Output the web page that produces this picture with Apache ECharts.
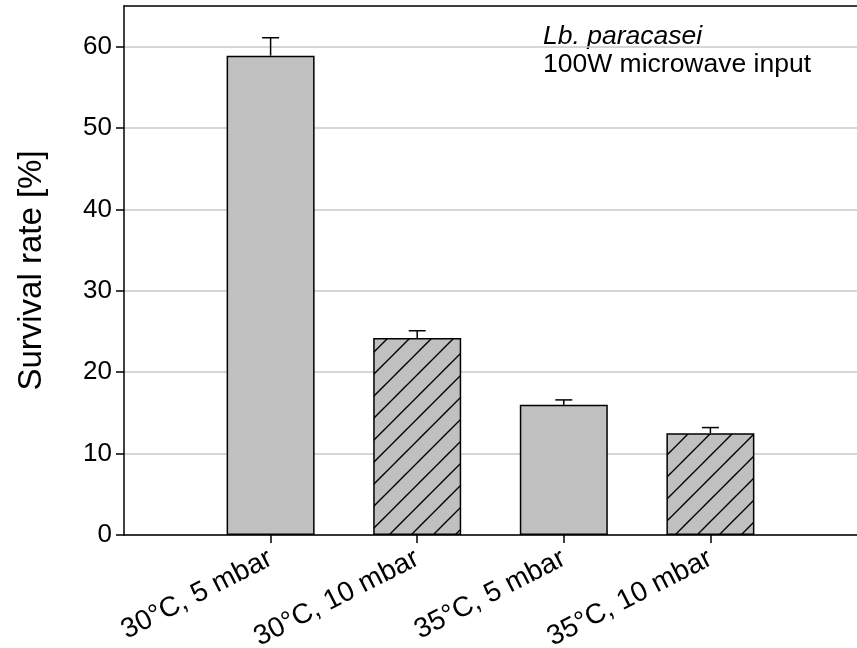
<!DOCTYPE html>
<html>
<head>
<meta charset="utf-8">
<script src="https://cdn.jsdelivr.net/npm/echarts@6/dist/echarts.min.js"></script>
<style>
  html, body { margin: 0; padding: 0; background: #fff; }
  #main { width: 857px; height: 648px; }
</style>
</head>
<body>
<div id="main"></div>
<script>
// data
var categories = ['', '30°C, 5 mbar', '30°C, 10 mbar', '35°C, 5 mbar', '35°C, 10 mbar', ''];
var survival = [null, 58.9, 24.2, 16.0, 12.5, null];
var errUp = [null, 2.2, 0.9, 0.6, 0.7, null];
var hatched = [false, false, true, false, true, false];
var yTicks = [0, 10, 20, 30, 40, 50, 60];

var font = 'Liberation Sans, Arial, sans-serif';

// hatch pattern for the 10 mbar bars
function makeHatch() {
  var s = 22;
  var c = document.createElement('canvas');
  c.width = s; c.height = s;
  var ctx = c.getContext('2d');
  ctx.fillStyle = '#c0c0c0';
  ctx.fillRect(0, 0, s, s);
  ctx.strokeStyle = '#000';
  ctx.lineWidth = 1.4;
  ctx.beginPath();
  ctx.moveTo(-s, s); ctx.lineTo(s, -s);
  ctx.moveTo(0, 2 * s); ctx.lineTo(2 * s, 0);
  ctx.moveTo(-s, 2 * s); ctx.lineTo(2 * s, -s);
  ctx.stroke();
  return c;
}
var hatch = makeHatch();

var barData = survival.map(function (v, i) {
  if (v == null) return null;
  return {
    value: v,
    itemStyle: { color: hatched[i] ? { image: hatch, repeat: 'repeat' } : '#c0c0c0' }
  };
});

var errData = survival.map(function (v, i) {
  if (v == null) return [i, null, null];
  return [i, v, v + errUp[i]];
});

var myChart = echarts.init(document.getElementById('main'));
var option = {
  animation: false,
  grid: { left: 124, right: 0, top: 6, bottom: 113, outerBoundsMode: 'none' },
  xAxis: [{
    type: 'category',
    data: categories,
    boundaryGap: false,
    axisLine: { lineStyle: { color: '#000', width: 1.5 } },
    axisTick: {
      length: 8,
      interval: function (i) { return i >= 1 && i <= 4; },
      lineStyle: { color: '#000', width: 1.5 }
    },
    axisLabel: {
      rotate: 27,
      margin: 22,
      color: '#000',
      fontFamily: font,
      fontSize: 28,
      interval: 0
    },
    splitLine: { show: false }
  }, {
    // top frame line
    type: 'category',
    position: 'top',
    data: categories,
    boundaryGap: false,
    axisLine: { lineStyle: { color: '#000', width: 1.5 } },
    axisTick: { show: false },
    axisLabel: { show: false }
  }],
  yAxis: {
    type: 'value',
    min: 0,
    max: 65,
    interval: 10,
    name: 'Survival rate [%]',
    nameLocation: 'middle',
    nameGap: 76,
    nameTextStyle: { color: '#000', fontFamily: font, fontSize: 33 },
    axisLine: { show: true, lineStyle: { color: '#000', width: 1.5 } },
    axisTick: { show: true, length: 8, customValues: yTicks, lineStyle: { color: '#000', width: 1.5 } },
    axisLabel: { customValues: yTicks, color: '#000', fontFamily: font, fontSize: 26, margin: 12 },
    splitLine: { lineStyle: { color: '#c8c8c8', width: 1.5 } }
  },
  series: [
    {
      type: 'bar',
      data: barData,
      barWidth: 88,
      itemStyle: { borderColor: '#000', borderWidth: 1.5 },
      z: 2
    },
    {
      type: 'custom',
      data: errData,
      z: 3,
      renderItem: function (params, api) {
        if (api.value(1) == null || isNaN(api.value(1))) return;
        var base = api.coord([api.value(0), api.value(1)]);
        var top = api.coord([api.value(0), api.value(2)]);
        var half = 8.5;
        var st = { stroke: '#000', lineWidth: 1.5 };
        return {
          type: 'group',
          children: [
            { type: 'line', shape: { x1: base[0], y1: base[1], x2: top[0], y2: top[1] }, style: st },
            { type: 'line', shape: { x1: top[0] - half, y1: top[1], x2: top[0] + half, y2: top[1] }, style: st }
          ]
        };
      }
    }
  ],
  graphic: [
    {
      type: 'text', left: 543, top: 23,
      style: { text: 'Lb. paracasei', font: 'italic 26.5px ' + font, fill: '#000' }
    },
    {
      type: 'text', left: 543, top: 51,
      style: { text: '100W microwave input', font: '26.5px ' + font, fill: '#000' }
    }
  ]
};
myChart.setOption(option);
</script>
</body>
</html>
